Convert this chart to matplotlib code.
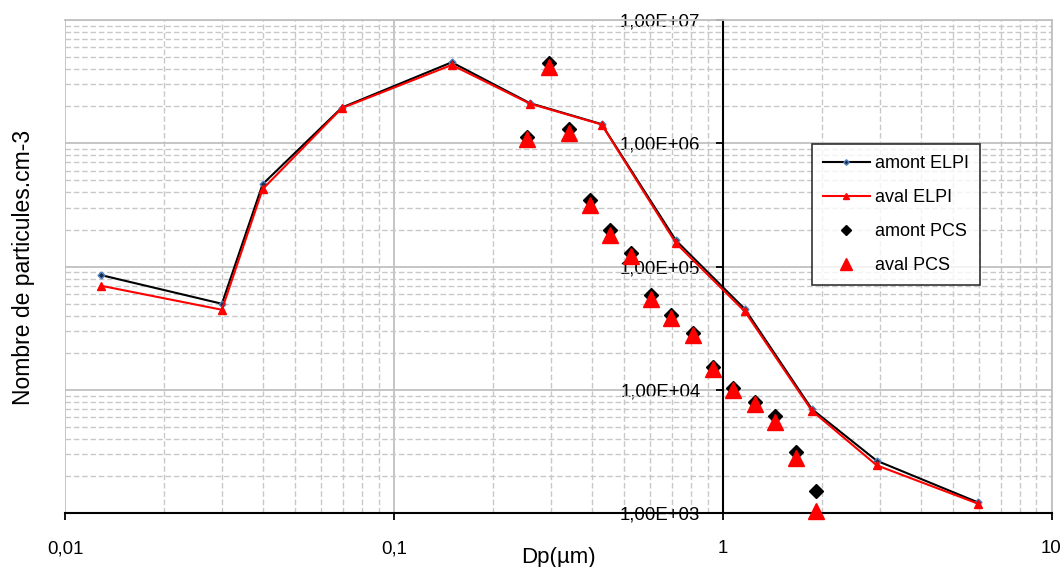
import matplotlib
matplotlib.use("Agg")
import matplotlib.pyplot as plt
from matplotlib.ticker import FixedLocator, LogLocator, NullFormatter

plt.rcParams['font.family'] = ['Liberation Sans', 'DejaVu Sans']

# ELPI data
elpi_dp = [0.0129, 0.0300, 0.0399, 0.0695, 0.150, 0.259, 0.4285, 0.721, 1.168, 1.867, 2.94, 5.98]
amont_elpi = [85300, 50000, 466000, 1.95e6, 4.54e6, 2.12e6, 1.43e6, 163000, 45300, 7000, 2670, 1225]
aval_elpi = [69900, 44700, 425000, 1.93e6, 4.32e6, 2.10e6, 1.42e6, 155000, 43300, 6790, 2450, 1197]

# PCS data
pcs_dp = [0.254, 0.2954, 0.340, 0.396, 0.455, 0.5265, 0.6035, 0.698, 0.812, 0.937, 1.073, 1.254, 1.443, 1.670, 1.918]
amont_pcs = [1.13e6, 4.46e6, 1.30e6, 348000, 199000, 130000, 59100, 40600, 29200, 15300, 10400, 7930, 6100, 3170, 1520]
aval_pcs = [1.08e6, 4.19e6, 1.21e6, 317000, 181000, 122000, 54600, 38300, 28000, 14800, 10000, 7730, 5460, 2800, 1036]

x_ticks = [0.01, 0.1, 1, 10]
x_ticklabels = ["0,01", "0,1", "1", "10"]
y_ticks = [1e3, 1e4, 1e5, 1e6, 1e7]
y_ticklabels = ["1,00E+03", "1,00E+04", "1,00E+05", "1,00E+06", "1,00E+07"]

fig = plt.figure(figsize=(10.64, 5.67), dpi=100)
ax = fig.add_axes([65/1064, (567-513.3)/567, (1051.5-65)/1064, (513.3-20)/567])

ax.set_xscale('log')
ax.set_yscale('log')
ax.set_xlim(0.01, 10)
ax.set_ylim(1e3, 1e7)

grid_col = '#C0C0C0'
ax.xaxis.set_minor_locator(LogLocator(base=10, subs=range(2, 10)))
ax.yaxis.set_minor_locator(LogLocator(base=10, subs=range(2, 10)))
ax.xaxis.set_minor_formatter(NullFormatter())
ax.yaxis.set_minor_formatter(NullFormatter())
ax.set_xticks(x_ticks)
ax.set_xticklabels(x_ticklabels)
ax.set_yticks(y_ticks)
ax.set_yticklabels(y_ticklabels)

ax.grid(True, which='major', color=grid_col, linestyle='-', linewidth=1.3, zorder=0)
ax.grid(True, which='minor', color='#C8C8C8', linestyle=(0, (4, 2)), linewidth=1.0, zorder=0)
ax.set_axisbelow(True)

ax.spines['left'].set_position(('data', 1))
ax.spines['left'].set_linewidth(1.5)
ax.spines['bottom'].set_linewidth(1.5)
ax.spines['top'].set_color(grid_col)
ax.spines['right'].set_color(grid_col)
ax.spines['top'].set_linewidth(1.3)
ax.spines['right'].set_linewidth(1.3)

ax.tick_params(axis='both', which='major', direction='out', length=5, width=1.3, labelsize=13.4)
ax.tick_params(axis='x', which='major', pad=14.5)
ax.tick_params(axis='y', which='major', pad=11)
ax.tick_params(which='minor', length=0)

ax.plot(elpi_dp, amont_elpi, color='black', linewidth=1.5, marker='D', markersize=3.5,
        markerfacecolor='#1F2A44', markeredgecolor='#4F81BD', markeredgewidth=1.0,
        label='amont ELPI', zorder=3)
ax.plot(elpi_dp, aval_elpi, color='#FF0000', linewidth=1.5, marker='^', markersize=6,
        markerfacecolor='#FF0000', markeredgecolor='#FF0000', label='aval ELPI', zorder=4)
ax.plot(pcs_dp, amont_pcs, linestyle='none', marker='D', markersize=7, color='black',
        label='amont PCS', zorder=5, clip_on=False)
ax.plot(pcs_dp, aval_pcs, linestyle='none', marker='^', markersize=11, color='#FF0000',
        label='aval PCS', zorder=6, clip_on=False)

ax.set_xlabel('Dp(µm)', fontsize=16)
ax.xaxis.set_label_coords(0.5, -0.068)
ax.xaxis.label.set_va('top')
fig.text(24/1064, 1 - 267/567, 'Nombre de particules.cm-3', rotation=90,
         ha='center', va='center', fontsize=16.5)

leg = ax.legend(loc='upper left', bbox_to_anchor=(0.757, 0.7486), borderaxespad=0,
                fontsize=13, numpoints=1, frameon=True, fancybox=False,
                edgecolor='black', labelspacing=0.95, handlelength=2.6,
                handletextpad=0.3, borderpad=0.6, markerscale=0.8)
leg.get_frame().set_linewidth(1.2)
leg.set_zorder(10)

fig.savefig('out.png', dpi=100)
